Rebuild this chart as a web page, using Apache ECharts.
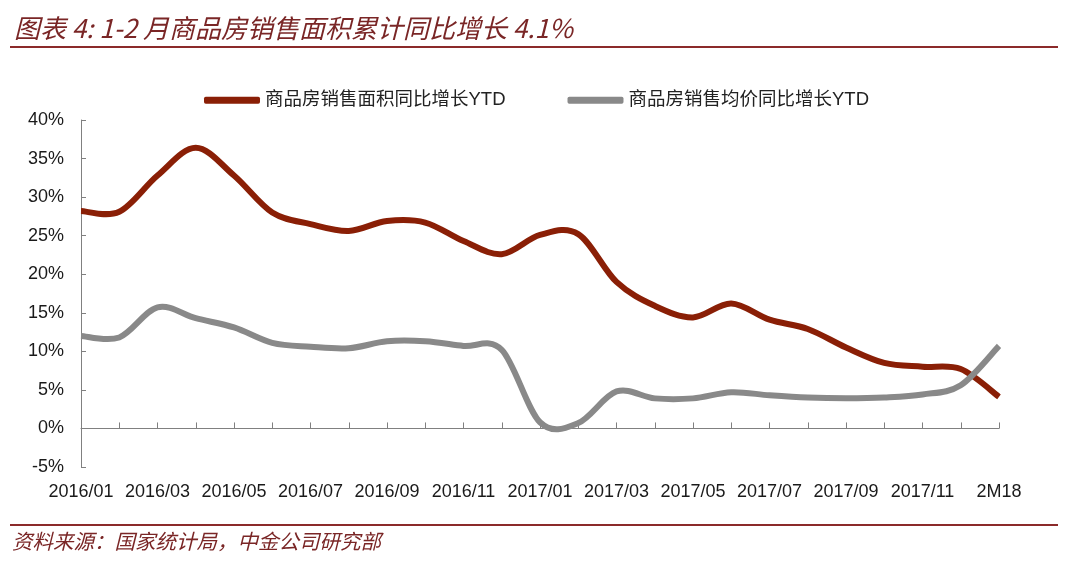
<!DOCTYPE html>
<html>
<head>
<meta charset="utf-8">
<script src="https://cdn.jsdelivr.net/npm/echarts@6/dist/echarts.min.js"></script>
<style>
html,body{margin:0;padding:0;background:#fff;}
#c{width:1080px;height:572px;}
</style>
</head>
<body>
<div id="c"></div>
<script>
const categories = ['2016/01','2016/02','2016/03','2016/04','2016/05','2016/06','2016/07','2016/08','2016/09','2016/10','2016/11','2016/12',
  '2017/01','2017/02','2017/03','2017/04','2017/05','2017/06','2017/07','2017/08','2017/09','2017/10','2017/11','2017/12','2M18'];
const areaYoY = [28.2, 28.1, 32.8, 36.4, 32.8, 28.0, 26.5, 25.6, 26.9, 26.7, 24.3, 22.6,
  25.1, 25.2, 19.0, 15.9, 14.4, 16.2, 14.1, 12.9, 10.5, 8.5, 8.0, 7.7, 4.1];
const priceYoY = [12.0, 11.8, 15.7, 14.3, 13.1, 11.1, 10.6, 10.4, 11.3, 11.3, 10.7, 10.2,
  0.8, 0.7, 4.8, 3.9, 3.9, 4.7, 4.3, 4.0, 3.9, 4.0, 4.4, 5.6, 10.7];
const seriesNames = ['商品房销售面积同比增长YTD', '商品房销售均价同比增长YTD'];
const titleText = '图表 4: 1-2 月商品房销售面积累计同比增长 4.1%';
const sourceText = '资料来源：国家统计局，中金公司研究部';

const chart = echarts.init(document.getElementById('c'), null, {renderer: 'canvas'});
const axisColor = '#808080';
const font = '"Liberation Sans", Arial, "Noto Sans CJK SC", sans-serif';

// Smoothed line (Catmull-Rom style, like the spreadsheet's smoothed line) drawn via the chart's own scale
function smoothLine(name, values, color) {
  return {
    name: name, type: 'custom', coordinateSystem: 'cartesian2d', xAxisIndex: 0, yAxisIndex: 0,
    data: values.map(function (v, i) { return [i, v]; }),
    encode: {x: 0, y: 1},
    itemStyle: {color: color},
    renderItem: function (params, api) {
      if (params.dataIndex !== 0) return null;
      const p = values.map(function (v, i) { return api.coord([i, v]); });
      const n = p.length;
      let d = 'M' + p[0][0] + ',' + p[0][1];
      for (let i = 0; i < n - 1; i++) {
        const p0 = p[Math.max(i - 1, 0)], p1 = p[i], p2 = p[i + 1], p3 = p[Math.min(i + 2, n - 1)];
        const c1x = p1[0] + (p2[0] - p0[0]) / 6, c1y = p1[1] + (p2[1] - p0[1]) / 6;
        const c2x = p2[0] - (p3[0] - p1[0]) / 6, c2y = p2[1] - (p3[1] - p1[1]) / 6;
        d += ' C' + c1x + ',' + c1y + ' ' + c2x + ',' + c2y + ' ' + p2[0] + ',' + p2[1];
      }
      return {
        type: 'path', shape: {pathData: d},
        style: {fill: 'none', stroke: color, lineWidth: 6, lineJoin: 'round', lineCap: 'butt'}
      };
    }
  };
}

chart.setOption({
  animation: false,
  backgroundColor: '#fff',
  title: {
    text: titleText, left: 9, top: 10,
    textStyle: {fontSize: 26, fontStyle: 'italic', fontWeight: 'normal', color: '#7a2626', fontFamily: '"Noto Sans CJK SC", sans-serif'}
  },
  graphic: [
    {type: 'line', shape: {x1: 10, y1: 47, x2: 1058, y2: 47}, style: {stroke: '#8b2a2a', lineWidth: 2}},
    {type: 'line', shape: {x1: 10, y1: 525, x2: 1058, y2: 525}, style: {stroke: '#8b2a2a', lineWidth: 2}},
    {type: 'text', left: 12, top: 531, style: {text: sourceText, fontSize: 20.5, fontStyle: 'italic', fill: '#7a2626', fontFamily: '"Noto Sans CJK SC", sans-serif'}}
  ],
  legend: {
    left: 199, top: 86, itemGap: 62, itemWidth: 56, itemHeight: 7, icon: 'roundRect',
    textStyle: {fontSize: 18.5, color: '#222', fontFamily: font},
    data: seriesNames
  },
  grid: {left: 81, right: 81, top: 120, bottom: 105, containLabel: false},
  xAxis: [
    {
      type: 'category', data: categories, boundaryGap: false, position: 'bottom',
      axisLine: {show: false, onZero: false}, axisTick: {show: false},
      axisLabel: {interval: 1, margin: 16, fontSize: 18, color: '#1a1a1a', fontFamily: font}
    },
    {
      type: 'category', data: categories, boundaryGap: false, position: 'bottom',
      axisLine: {show: true, onZero: true, lineStyle: {color: axisColor, width: 1}},
      axisTick: {show: true, inside: true, length: 6, interval: 0, lineStyle: {color: axisColor}},
      axisLabel: {show: false}
    }
  ],
  yAxis: {
    type: 'value', min: -5, max: 40, interval: 5,
    axisLine: {show: true, onZero: false, lineStyle: {color: axisColor, width: 1}},
    axisTick: {show: true, inside: true, length: 5, lineStyle: {color: axisColor}},
    splitLine: {show: false},
    axisLabel: {formatter: '{value}%', margin: 17, fontSize: 18, color: '#1a1a1a', fontFamily: font}
  },
  series: [
    smoothLine(seriesNames[0], areaYoY, '#8a1f06'),
    smoothLine(seriesNames[1], priceYoY, '#898989')
  ]
});
</script>
</body>
</html>
